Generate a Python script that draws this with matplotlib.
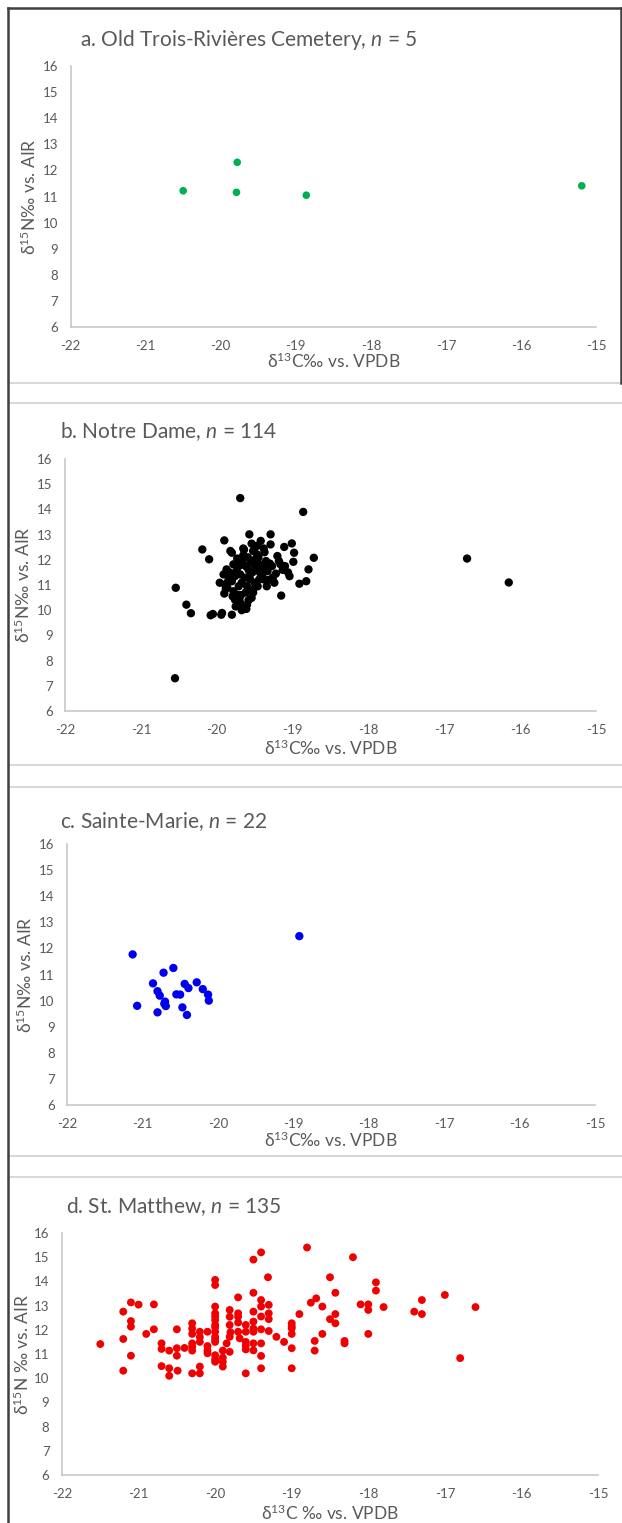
import numpy as np
import matplotlib
matplotlib.use('Agg')
import matplotlib.pyplot as plt
from matplotlib.lines import Line2D

plt.rcParams['font.family'] = ['Lato', 'DejaVu Sans']
plt.rcParams['mathtext.fontset'] = 'custom'
plt.rcParams['mathtext.rm'] = 'Lato'
plt.rcParams['mathtext.it'] = 'Lato:italic'
plt.rcParams['mathtext.default'] = 'regular'
plt.rcParams['axes.unicode_minus'] = False

# a. Old Trois-Rivieres Cemetery
a_x = [-20.50, -19.78, -19.79, -18.86, -15.19]
a_y = [11.22, 12.31, 11.16, 11.05, 11.41]

# b. Notre Dame
b_x = [-19.69, -18.86, -20.19, -20.10, -19.90, -19.57, -19.29, -19.42, -19.29, -19.54,
       -19.01, -19.11, -18.98, -18.72, -19.20, -19.16, -19.10, -18.99, -18.79, -19.04,
       -18.91, -18.82, -19.15, -19.24, -19.34, -19.38, -19.43, -19.36, -19.35, -19.43,
       -19.49, -19.47, -19.52, -19.65, -19.80, -19.82, -19.78, -19.71, -19.87, -19.91,
       -19.96, -19.89, -19.90, -19.78, -19.76, -19.69, -19.67, -19.60, -19.54, -19.52,
       -19.60, -19.67, -19.63, -19.69, -19.76, -19.80, -19.56, -19.50, -19.44, -20.54,
       -20.40, -20.34, -20.08, -20.05, -19.94, -19.93, -19.80, -20.55, -16.70, -16.15,
       -19.74, -19.72, -19.62, -19.58, -19.55, -19.64, -19.84, -19.86, -19.70, -19.66,
       -19.53, -19.48, -19.45, -19.40, -19.33, -19.30, -19.26, -19.22, -19.18, -19.13,
       -19.06, -19.38, -19.46, -19.58, -19.62, -19.73, -19.83, -19.88, -19.75, -19.68,
       -19.57, -19.51, -19.41, -19.32, -19.27, -19.61, -19.71, -19.79, -19.85, -19.65,
       -19.59, -19.47, -19.37, -19.52]
b_y = [14.45, 13.90, 12.41, 12.02, 12.77, 13.01, 13.01, 12.75, 12.61, 12.64,
       12.65, 12.51, 12.28, 12.08, 12.15, 11.82, 11.75, 11.92, 11.62, 11.35,
       11.05, 11.15, 10.58, 11.09, 10.95, 11.22, 11.49, 11.69, 11.95, 11.82,
       12.02, 12.22, 12.35, 12.18, 12.28, 12.35, 11.82, 11.75, 11.62, 11.42,
       11.09, 11.02, 10.66, 10.75, 10.42, 10.29, 10.00, 10.22, 10.49, 10.82,
       10.95, 11.09, 11.29, 11.42, 11.35, 11.15, 11.22, 11.09, 11.22, 10.89,
       10.22, 9.88, 9.80, 9.85, 9.82, 9.89, 9.82, 7.30, 12.05, 11.10,
       11.55, 10.60, 10.70, 11.60, 11.90, 12.40, 11.30, 10.90, 10.45, 11.95,
       11.50, 11.70, 12.10, 11.40, 11.55, 11.85, 11.30, 11.45, 11.95, 11.60,
       11.50, 12.45, 10.95, 10.40, 11.75, 12.05, 11.50, 10.85, 10.15, 10.60,
       11.35, 11.85, 11.60, 11.20, 11.75, 10.05, 10.95, 10.55, 11.15, 12.45,
       12.10, 12.55, 12.30, 10.70]

# c. Sainte-Marie
c_x = [-18.92, -21.13, -20.59, -20.72, -20.86, -20.80, -20.77, -20.70, -20.69, -21.07,
       -20.80, -20.47, -20.41, -20.55, -20.50, -20.44, -20.39, -20.28, -20.20, -20.13,
       -20.12, -20.71]
c_y = [12.47, 11.77, 11.25, 11.07, 10.66, 10.36, 10.19, 9.96, 9.79, 9.80,
       9.55, 9.74, 9.45, 10.24, 10.23, 10.64, 10.48, 10.70, 10.44, 10.23,
       10.00, 9.88]

# d. St. Matthew
d_x = [-21.50, -21.20, -21.10, -21.00, -20.80, -21.10, -21.10, -21.20, -21.10, -21.20,
       -20.90, -20.80, -20.70, -20.70, -20.60, -20.50, -20.50, -20.50, -20.70, -20.60,
       -20.60, -20.49, -20.30, -20.30, -20.30, -20.30, -20.30, -20.20, -20.20, -20.20,
       -20.20, -20.10, -20.10, -20.10, -20.00, -20.00, -20.00, -20.00, -20.00, -20.00,
       -20.00, -20.00, -20.00, -20.00, -20.00, -19.90, -19.90, -19.90, -19.81, -19.81,
       -19.81, -19.81, -19.81, -19.85, -19.70, -19.70, -19.70, -19.70, -19.68, -19.60,
       -19.60, -19.60, -19.60, -19.50, -19.50, -19.50, -19.50, -19.50, -19.40, -19.40,
       -19.30, -19.30, -19.30, -19.40, -19.30, -19.40, -19.40, -19.40, -19.31, -19.20,
       -19.10, -19.00, -19.00, -19.00, -19.00, -19.00, -18.90, -18.75, -18.68, -18.60,
       -18.50, -18.43, -18.43, -18.50, -18.43, -18.60, -18.70, -18.70, -18.31, -18.31,
       -17.90, -17.90, -18.10, -18.00, -18.00, -17.80, -18.00, -17.40, -17.30, -17.30,
       -17.00, -16.60, -16.80, -19.50, -19.40, -18.80, -18.20, -20.00, -20.00, -20.30,
       -19.50, -19.60, -20.20, -19.90, -20.10, -19.80, -19.00, -20.40, -19.70, -20.00,
       -19.40, -20.30, -19.60, -19.50, -20.00]
d_y = [11.41, 12.75, 13.13, 13.04, 13.05, 12.36, 12.13, 11.62, 10.93, 10.31,
       11.83, 12.02, 11.44, 11.21, 11.14, 11.24, 10.93, 12.02, 10.50, 10.41,
       10.10, 10.31, 12.27, 11.83, 11.44, 11.14, 10.20, 10.20, 10.48, 11.92,
       11.50, 11.92, 11.33, 11.03, 14.06, 13.85, 12.96, 12.68, 12.40, 12.20,
       11.92, 11.71, 11.50, 10.78, 10.68, 11.14, 10.68, 10.48, 12.82, 12.54,
       12.20, 11.71, 11.09, 11.44, 13.34, 12.68, 12.54, 11.92, 11.65, 11.92,
       11.50, 11.19, 10.20, 13.53, 12.75, 12.34, 11.92, 11.44, 13.23, 12.96,
       13.03, 12.68, 12.44, 12.02, 11.95, 11.44, 10.92, 10.41, 14.17, 11.71,
       11.50, 12.27, 12.06, 11.83, 11.24, 10.41, 12.65, 13.12, 13.30, 12.96,
       14.17, 13.53, 12.65, 12.44, 12.27, 11.83, 11.54, 11.14, 11.54, 11.44,
       13.96, 13.62, 13.05, 13.05, 12.82, 12.94, 11.83, 12.75, 13.23, 12.65,
       13.44, 12.94, 10.83, 14.90, 15.20, 15.40, 15.00, 12.10, 11.60, 11.30,
       12.05, 11.35, 11.70, 10.85, 11.15, 11.90, 12.15, 11.25, 12.30, 12.55,
       12.55, 12.05, 12.20, 11.15, 10.95]

W, H = 622, 1523
fig = plt.figure(figsize=(W / 100, H / 100), dpi=100)

def box(l, t, r, b):
    return [l / W, 1 - b / H, (r - l) / W, (b - t) / H]

def fx(x):
    return x / W

def fy(y):
    return 1 - y / H

grey = '#595959'
spine = '#c8c8c8'

panels = [
    (a_x, a_y, '#00b050', 30, (70.6, 66, 596, 327),
     r'a. Old Trois-Rivières Cemetery, $\mathit{n}$ = 5', (80, 40),
     r'$\delta^{15}$N‰ vs. AIR', 29, r'$\delta^{13}$C‰ vs. VPDB', 361),
    (b_x, b_y, '#000000', 36, (65, 459, 596, 711),
     r'b. Notre Dame, $\mathit{n}$ = 114', (60, 432),
     r'$\delta^{15}$N‰ vs. AIR', 23, r'$\delta^{13}$C‰ vs. VPDB', 748),
    (c_x, c_y, '#0000f0', 36, (67, 844, 595, 1105),
     r'c. Sainte-Marie, $\mathit{n}$ = 22', (60, 822),
     r'$\delta^{15}$N‰ vs. AIR', 25, r'$\delta^{13}$C‰ vs. VPDB', 1140),
    (d_x, d_y, '#f00000', 32, (62, 1233, 598, 1475),
     r'd. St. Matthew, $\mathit{n}$ = 135', (66, 1207),
     r'$\delta^{15}$N ‰ vs. AIR', 22, r'$\delta^{13}$C ‰ vs. VPDB', 1513),
]

for xs, ys, col, size, (l, t, r, b), title, (tx, ty), ylab, ylx, xlab, xly in panels:
    ax = fig.add_axes(box(l, t, r, b))
    ax.scatter(xs, ys, s=size, c=col, edgecolors='none', zorder=3)
    ax.set_xlim(-22, -15)
    ax.set_ylim(6, 16)
    ax.set_xticks(np.arange(-22, -14, 1))
    ax.set_yticks(np.arange(6, 17, 1))
    for side in ['top', 'right']:
        ax.spines[side].set_visible(False)
    for side in ['left', 'bottom']:
        ax.spines[side].set_color(spine)
        ax.spines[side].set_linewidth(1.2)
    ax.tick_params(length=0, labelsize=9.5, labelcolor=grey)
    ax.tick_params(axis='x', pad=9)
    ax.tick_params(axis='y', pad=9)
    fig.text(fx(tx), fy(ty), title, fontsize=15, color=grey, va='center', ha='left')
    fig.text(fx(ylx), fy((t + b) / 2), ylab, fontsize=12.5, color=grey,
             rotation=90, va='center', ha='center')
    fig.text(fx((l + r) / 2), fy(xly), xlab, fontsize=12.5, color=grey,
             va='center', ha='center')

# panel separators
for y in [383, 403, 765, 787, 1156, 1177]:
    fig.add_artist(Line2D([fx(8), 1], [fy(y), fy(y)], color='#d4d4d4', lw=1.3))

# outer frame
fig.add_artist(Line2D([fx(8), fx(8)], [fy(8), 0], color='#404040', lw=1.8))
fig.add_artist(Line2D([fx(8), fx(621)], [fy(8), fy(8)], color='#404040', lw=1.8))
fig.add_artist(Line2D([fx(621), fx(621)], [fy(8), fy(383)], color='#404040', lw=1.8))

fig.savefig('out.png', dpi=100)
